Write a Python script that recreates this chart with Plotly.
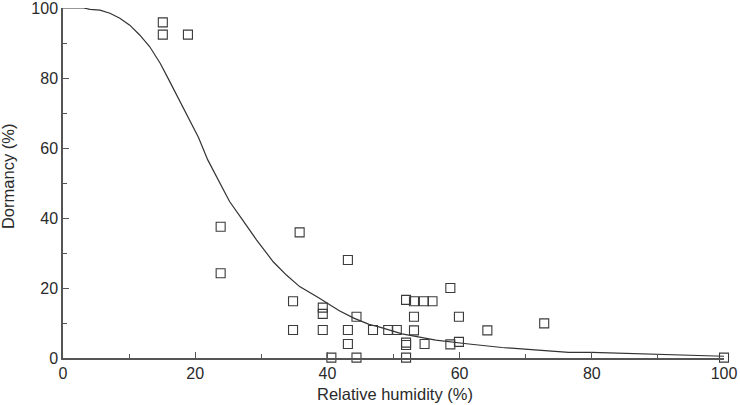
import plotly.graph_objects as go

# Observed data (relative humidity %, dormancy %)
obs_rh = [15.1, 15.1, 18.9, 23.85, 23.85, 35.8, 43.1, 34.8, 39.3, 39.3, 44.4,
          34.8, 39.3, 43.1, 46.9, 43.1, 40.6, 44.4,
          49.2, 50.5, 51.9, 53.1, 54.6, 55.9, 58.6, 53.1, 59.9, 53.1, 64.2,
          51.9, 51.9, 54.7, 58.6, 59.9, 51.9, 72.8, 100.0]
obs_dorm = [95.9, 92.4, 92.4, 37.5, 24.2, 35.9, 28.0, 16.2, 14.4, 12.6, 11.8,
            8.0, 8.0, 8.0, 8.0, 4.0, 0.1, 0.1,
            8.0, 8.0, 16.6, 16.2, 16.2, 16.2, 20.0, 11.8, 11.8, 7.9, 7.9,
            4.4, 3.7, 4.0, 3.9, 4.6, 0.1, 9.9, 0.1]

# Fitted curve
fit_rh = [0, 3.1, 4.1, 5.6, 7.1, 8.6, 10.1, 11.6, 13.1, 14.7, 15.9, 17.2, 18.7,
          20.5, 21.9, 23.7, 25.2, 27.0, 29.3, 31.8, 33.8, 35.8, 38.8, 41.8,
          44.0, 46.3, 47.8, 51.3, 56.4, 61.4, 66.4, 71.4, 76.5, 80.0, 86.5,
          96.0, 100.0]
fit_dorm = [100, 100, 99.6, 99.4, 98.5, 97.1, 95.1, 92.3, 89.0, 84.2, 79.9, 75.1, 69.4,
            63.0, 56.6, 49.9, 44.7, 39.9, 33.7, 27.5, 23.7, 20.4, 17.1, 13.5,
            11.4, 9.6, 8.9, 6.9, 5.1, 4.0, 3.0, 2.3, 1.6, 1.6, 1.3,
            0.7, 0.5]

x_ticks = [0, 20, 40, 60, 80, 100]
y_ticks = [0, 20, 40, 60, 80, 100]

x_title = "Relative humidity (%)"
y_title = "Dormancy (%)"

axis_col = "#555555"
text_col = "#2a2a2a"
font_family = "Liberation Sans, Arial, Helvetica, sans-serif"

fig = go.Figure()
fig.add_trace(go.Scatter(
    x=fit_rh, y=fit_dorm, mode="lines",
    line=dict(color="#333333", width=1.2),
    showlegend=False, cliponaxis=False,
))
fig.add_trace(go.Scatter(
    x=obs_rh, y=obs_dorm, mode="markers",
    marker=dict(symbol="square-open", size=9, color="#3a3a3a",
                line=dict(width=1.1, color="#3a3a3a")),
    showlegend=False, cliponaxis=False,
))

common_axis = dict(
    range=[0, 100],
    ticks="inside", ticklen=6, tickwidth=1, tickcolor=axis_col,
    showline=True, linecolor=axis_col, linewidth=1.5,
    showgrid=False, zeroline=False, automargin=False,
    ticklabeloverflow="allow",
    minor=dict(dtick=10, ticks="inside", ticklen=4, tickwidth=1, tickcolor=axis_col),
    tickfont=dict(size=16, color=text_col),
)

fig.update_layout(
    width=740, height=405,
    margin=dict(l=63, r=16, t=8, b=47),
    paper_bgcolor="white", plot_bgcolor="white",
    font=dict(family=font_family, size=16, color=text_col),
    xaxis=dict(tickvals=x_ticks, ticktext=[str(v) for v in x_ticks], **common_axis),
    yaxis=dict(tickvals=y_ticks, ticktext=[str(v) for v in y_ticks], **common_axis),
    annotations=[
        dict(text=x_title, xref="paper", yref="paper", x=0.502, y=0,
             yshift=-36, xanchor="center", yanchor="middle", showarrow=False,
             font=dict(size=16.5, color=text_col)),
        dict(text=y_title, xref="paper", yref="paper", x=0, y=0.517,
             xshift=-55, xanchor="center", yanchor="middle", textangle=-90,
             showarrow=False, font=dict(size=16.5, color=text_col)),
    ],
)

fig.write_html(
    "out.html",
    config={"displayModeBar": False},
    post_script="document.body.style.margin='0';document.body.style.overflow='hidden';",
)
